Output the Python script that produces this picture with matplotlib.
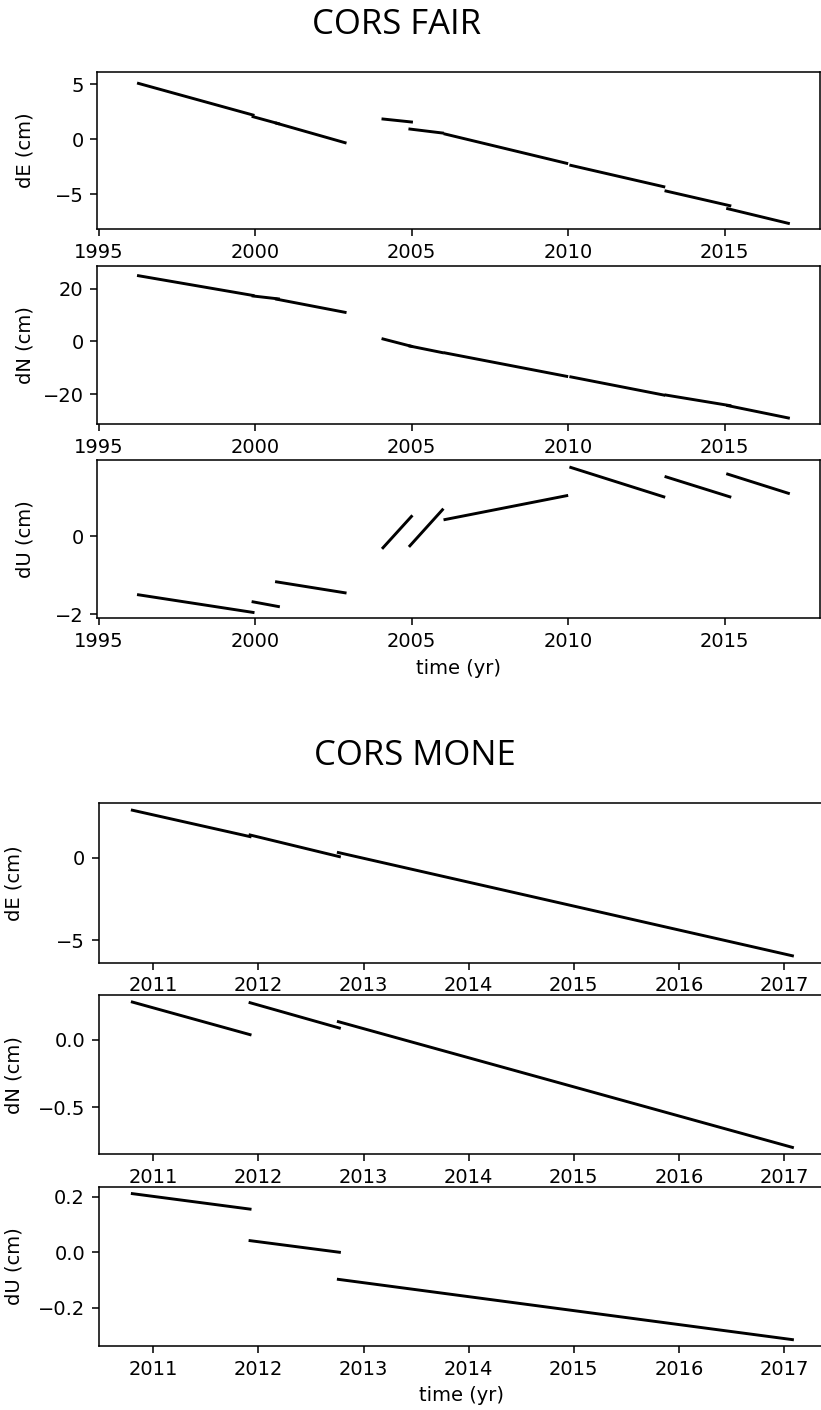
import matplotlib
matplotlib.use("Agg")
import matplotlib.pyplot as plt

# ---- CORS FAIR: piecewise-linear segments (start/end time, start/end value) ----
fair_t0 = [1996.27, 1999.93, 2000.68, 2004.08, 2004.94, 2006.06, 2010.08, 2013.12, 2015.09]
fair_t1 = [1999.93, 2000.74, 2002.87, 2004.99, 2005.98, 2009.95, 2013.05, 2015.16, 2017.03]
fair_dE0 = [5.06, 2.04, 1.45, 1.83, 0.92, 0.47, -2.37, -4.70, -6.30]
fair_dE1 = [2.19, 1.41, -0.32, 1.56, 0.56, -2.19, -4.31, -6.03, -7.63]
fair_dN0 = [24.9, 17.2, 16.0, 0.9, -1.8, -4.4, -13.5, -20.4, -24.4]
fair_dN1 = [17.4, 16.1, 11.0, -1.9, -4.3, -13.3, -20.4, -24.4, -29.1]
fair_dU0 = [-1.50, -1.68, -1.17, -0.30, -0.25, 0.42, 1.75, 1.51, 1.58]
fair_dU1 = [-1.95, -1.80, -1.45, 0.50, 0.67, 1.03, 1.00, 1.00, 1.09]

# ---- CORS MONE ----
mone_t0 = [2010.80, 2011.92, 2012.76]
mone_t1 = [2011.92, 2012.77, 2017.08]
mone_dE0 = [2.91, 1.40, 0.33]
mone_dE1 = [1.30, 0.08, -5.96]
mone_dN0 = [0.278, 0.273, 0.133]
mone_dN1 = [0.037, 0.086, -0.796]
mone_dU0 = [0.212, 0.042, -0.098]
mone_dU1 = [0.156, 0.000, -0.316]

W, H, DPI = 821, 1410, 140
fig = plt.figure(figsize=(W / DPI, H / DPI), dpi=DPI)


def px_axes(left, right, top, bottom):
    # axes rect from pixel edges (y measured from the top)
    return fig.add_axes([left / W, 1 - bottom / H, (right - left) / W, (bottom - top) / H])


def draw(ax, t0, t1, v0, v1):
    for a, b, c, d in zip(t0, t1, v0, v1):
        ax.plot([a, b], [c, d], color="k", lw=1.5)


fair = [
    ("dE (cm)", fair_dE0, fair_dE1, 71.7, 229.3, (-8.17, 6.12), [-5, 0, 5]),
    ("dN (cm)", fair_dN0, fair_dN1, 265.7, 424.3, (-31.5, 28.7), [-20, 0, 20]),
    ("dU (cm)", fair_dU0, fair_dU1, 460.0, 618.3, (-2.10, 1.94), [-2, 0]),
]
for i, (lab, v0, v1, top, bot, yl, yt) in enumerate(fair):
    ax = px_axes(97.3, 819.7, top, bot)
    draw(ax, fair_t0, fair_t1, v0, v1)
    ax.set_xlim(1994.955, 2018.03)
    ax.set_xticks([1995, 2000, 2005, 2010, 2015])
    ax.set_ylim(*yl); ax.set_yticks(yt)
    ax.set_ylabel(lab)
    ax.yaxis.set_label_coords(-0.0876, 0.5)  # aligned across the group
    if i == 2:
        ax.set_xlabel("time (yr)")

mone = [
    ("dE (cm)", mone_dE0, mone_dE1, 803.3, 962.7, (-6.38, 3.33), [-5, 0]),
    ("dN (cm)", mone_dN0, mone_dN1, 995.0, 1154.3, (-0.847, 0.33), [-0.5, 0.0]),
    ("dU (cm)", mone_dU0, mone_dU1, 1187.0, 1346.0, (-0.339, 0.236), [-0.2, 0.0, 0.2]),
]
for i, (lab, v0, v1, top, bot, yl, yt) in enumerate(mone):
    ax = px_axes(98.7, 825.0, top, bot)
    draw(ax, mone_t0, mone_t1, v0, v1)
    ax.set_xlim(2010.48, 2017.39)
    ax.set_xticks(range(2011, 2018))
    ax.set_ylim(*yl); ax.set_yticks(yt)
    if lab != "dE (cm)":
        ax.set_yticklabels([f"{v:.1f}".replace("-", "\u2212") for v in yt])
    ax.set_ylabel(lab)
    ax.yaxis.set_label_coords(-0.1029, 0.5)
    if i == 2:
        ax.set_xlabel("time (yr)")

fig.text(397 / W, 1 - 25 / H, "CORS FAIR", ha="center", va="center",
         fontsize=17.8, family=["Open Sans", "DejaVu Sans"])
fig.text(415 / W, 1 - 756 / H, "CORS MONE", ha="center", va="center",
         fontsize=17.8, family=["Open Sans", "DejaVu Sans"])

fig.savefig("out.png", dpi=DPI)
